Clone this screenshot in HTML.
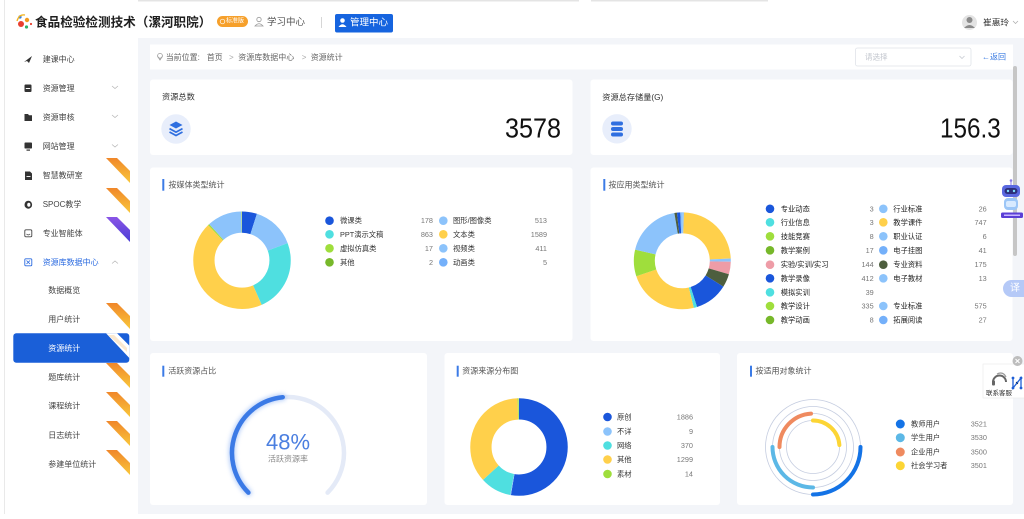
<!DOCTYPE html>
<html><head><meta charset="utf-8">
<style>
html,body{margin:0;padding:0;background:#fff;}
body{width:1024px;height:514px;overflow:hidden;}
svg text{dominant-baseline:central;}
</style></head>
<body>
<svg width="1024" height="514" viewBox="0 0 1024 514" xmlns="http://www.w3.org/2000/svg" font-family="'Liberation Sans','Noto Sans CJK SC',sans-serif">
<defs>
  <linearGradient id="rg" x1="0" y1="0" x2="0" y2="1"><stop offset="0" stop-color="#f0872a"/><stop offset="1" stop-color="#f9c73a"/></linearGradient>
  <linearGradient id="pg" x1="0" y1="0" x2="0" y2="1"><stop offset="0" stop-color="#8a55e6"/><stop offset="1" stop-color="#4a3ed6"/></linearGradient>
  <filter id="blur" x="-20%" y="-20%" width="140%" height="140%"><feGaussianBlur stdDeviation="2.2"/></filter>
</defs>

<!-- backgrounds -->
<rect x="0" y="0" width="1024" height="514" fill="#fff"/>
<rect x="138" y="38" width="886" height="476" fill="#f3f5f9"/>
<rect x="138" y="0" width="441" height="1.5" fill="#e4e4e4"/>
<rect x="591" y="0" width="177" height="1.5" fill="#e4e4e4"/>
<rect x="4" y="0" width="1" height="514" fill="#e9e9e9"/>

<!-- header -->
<g>
  <circle cx="21" cy="24" r="3" fill="#e8402f"/>
  <circle cx="27" cy="20" r="2.2" fill="#f39a1e"/>
  <circle cx="20" cy="17" r="1.6" fill="#2f7be0"/>
  <circle cx="26.5" cy="27" r="1.6" fill="#2fb36a"/>
  <path d="M17 21 Q19 14 25 15" stroke="#f2b21a" stroke-width="1.3" fill="none"/>
  <circle cx="31" cy="24" r="1.1" fill="#e8402f"/>
</g>
<text x="35" y="22.7" font-size="12.6" font-weight="bold" fill="#1e1e1e">食品检验检测技术（漯河职院）</text>
<rect x="217" y="16" width="31" height="11" rx="5.5" fill="#f6a02b"/>
<circle cx="222.5" cy="21.5" r="2.3" fill="none" stroke="#fff" stroke-width="0.7"/>
<text x="226" y="21.7" font-size="6" fill="#fff">标准版</text>
<circle cx="259" cy="19.5" r="2.2" fill="none" stroke="#999" stroke-width="0.8"/>
<path d="M255 26 Q259 21.5 263 26 Z" fill="none" stroke="#999" stroke-width="0.8"/>
<text x="267" y="22.7" font-size="9.5" fill="#555">学习中心</text>
<rect x="321" y="17" width="0.8" height="11" fill="#ccc"/>
<rect x="335" y="14" width="58" height="18.5" rx="2" fill="#1664df"/>
<circle cx="342.5" cy="20.5" r="2.3" fill="#fff"/>
<path d="M338.5 27 Q342.5 21.5 346.5 27 Z" fill="#fff"/>
<text x="350" y="23" font-size="9.5" fill="#fff">管理中心</text>
<circle cx="969.5" cy="22.5" r="7.5" fill="#e3e3e3"/>
<circle cx="969.5" cy="20" r="3" fill="#8a8a8a"/>
<path d="M964 28 Q969.5 22 975 28 Z" fill="#8a8a8a"/>
<text x="983" y="22.5" font-size="8.7" fill="#333">崔惠玲</text>
<polyline points="1013,21 1015.5,23.5 1018,21" fill="none" stroke="#aaa" stroke-width="0.7"/>

<!-- sidebar -->
<g fill="#444" font-size="8">
  <!-- icons -->
  <path d="M24 62 L32 56 L29 63 L27 61 Z" fill="#333"/>
  <rect x="24.5" y="84.5" width="7" height="7.5" rx="1" fill="#333"/><rect x="25.8" y="88" width="4.4" height="1" fill="#fff"/>
  <path d="M24.5 114 L28 114 L29 115.2 L32 115.2 L32 121 L24.5 121 Z" fill="#333"/>
  <rect x="24.5" y="142.5" width="7.5" height="6" rx="0.8" fill="#333"/><rect x="26.5" y="149.5" width="3.5" height="1.2" fill="#333"/>
  <path d="M25 171.5 L30 171.5 L32 173.5 L32 180 L25 180 Z" fill="#333"/><rect x="26.5" y="176" width="4" height="0.9" fill="#fff"/>
  <ellipse cx="28.3" cy="204.7" rx="3.8" ry="4" fill="#333"/><ellipse cx="28.8" cy="204.7" rx="1.6" ry="2" fill="#fff"/>
  <rect x="24.8" y="229.8" width="7" height="7" rx="1.2" fill="none" stroke="#444" stroke-width="0.9"/><path d="M26.5 234 Q28.3 235.8 30.1 234" fill="none" stroke="#444" stroke-width="0.8"/>
  <rect x="24.8" y="258.8" width="7" height="7" rx="1" fill="none" stroke="#2a6ae0" stroke-width="0.9"/><path d="M26.5 260.5 L30 264 M30 260.5 L26.5 264" stroke="#2a6ae0" stroke-width="0.8"/>
  <text x="42.7" y="59.3">建课中心</text>
  <text x="42.7" y="88.3">资源管理</text>
  <text x="42.7" y="117.3">资源审核</text>
  <text x="42.7" y="146.7">网站管理</text>
  <text x="42.7" y="175.7">智慧教研室</text>
  <text x="42.7" y="204.7">SPOC教学</text>
  <text x="42.7" y="233.3">专业智能体</text>
  <text x="42.7" y="262.3" fill="#2a6ae0">资源库数据中心</text>
  <text x="48.3" y="290.7">数据概览</text>
  <text x="48.3" y="319.3">用户统计</text>
  <rect x="13.3" y="333.3" width="116" height="29.4" rx="3" fill="#1a5fd8"/>
  <text x="48.3" y="348.3" fill="#fff">资源统计</text>
  <text x="48.3" y="377.3">题库统计</text>
  <text x="48.3" y="406">课程统计</text>
  <text x="48.3" y="435.7">日志统计</text>
  <text x="48.3" y="464.3">参建单位统计</text>
</g>
<g fill="none" stroke="#b5b5b5" stroke-width="0.7">
  <polyline points="112,86 115,88.5 118,86"/>
  <polyline points="112,115 115,117.5 118,115"/>
  <polyline points="112,144.5 115,147 118,144.5"/>
  <polyline points="112,263.5 115,261 118,263.5"/>
</g>
<!-- ribbons -->
<polygon points="106,158 117,158 130,171 130,183" fill="url(#rg)"/>
<polygon points="106,188 117,188 130,201 130,213" fill="url(#rg)"/>
<polygon points="106,217 117,217 130,230 130,242" fill="url(#pg)"/>
<polygon points="106,303 117,303 130,316 130,329" fill="url(#rg)"/>
<polygon points="106,333.3 117,333.3 129.3,345.6 129.3,358" fill="#fff"/>
<polygon points="108,335 114,335 127,348 127,352" fill="#f7d9b0" opacity="0.6"/>
<polygon points="106,363 117,363 130,376 130,388" fill="url(#rg)"/>
<polygon points="106,392 117,392 130,405 130,417" fill="url(#rg)"/>
<polygon points="106,421 117,421 130,434 130,446" fill="url(#rg)"/>
<polygon points="106,450 117,450 130,463 130,475" fill="url(#rg)"/>

<!-- breadcrumb -->
<rect x="150" y="44.5" width="863" height="25" fill="#fff"/>
<circle cx="160" cy="55.8" r="2.4" fill="none" stroke="#999" stroke-width="0.8"/>
<path d="M157.6 56.3 L160 60 L162.4 56.3" fill="none" stroke="#999" stroke-width="0.8"/>
<g font-size="8" fill="#666">
  <text x="165.7" y="57.3">当前位置:</text>
  <text x="206.7" y="57.3">首页</text>
  <text x="229" y="57.3" fill="#aaa">&gt;</text>
  <text x="238.3" y="57.3">资源库数据中心</text>
  <text x="301.7" y="57.3" fill="#aaa">&gt;</text>
  <text x="310.7" y="57.3">资源统计</text>
</g>
<rect x="855.5" y="48" width="115.5" height="18" rx="2" fill="#fff" stroke="#e0e3e9" stroke-width="0.8"/>
<text x="865" y="57.2" font-size="7.5" fill="#c0c4cc">请选择</text>
<polyline points="959.5,56 962,58.5 964.5,56" fill="none" stroke="#c0c4cc" stroke-width="0.7"/>
<text x="982" y="57.2" font-size="8" fill="#3a7be2">←返回</text>
<rect x="1013" y="66" width="4" height="190" rx="2" fill="#c6c6c6"/>

<!-- top cards -->
<rect x="150" y="79.5" width="422.5" height="75.5" rx="3" fill="#fff"/>
<rect x="590.5" y="79.5" width="422" height="75.5" rx="3" fill="#fff"/>
<text x="162" y="97" font-size="8.2" fill="#333">资源总数</text>
<circle cx="176" cy="129" r="14.7" fill="#e8eefb"/>
<path d="M169.5 125 L176 121.5 L182.5 125 L176 128.5 Z" fill="#2f6fe0"/>
<path d="M169.5 128.6 L176 132.1 L182.5 128.6" fill="none" stroke="#2f6fe0" stroke-width="1.7"/>
<path d="M169.5 132 L176 135.5 L182.5 132" fill="none" stroke="#2f6fe0" stroke-width="1.7"/>
<text x="505" y="128" font-size="28" fill="#111" textLength="56" lengthAdjust="spacingAndGlyphs">3578</text>
<text x="602.3" y="97.3" font-size="8.2" fill="#333">资源总存储量(G)</text>
<circle cx="617" cy="128.8" r="14.7" fill="#e8eefb"/>
<rect x="611" y="121.5" width="12" height="4" rx="2" fill="#2f6fe0"/>
<rect x="611" y="127" width="12" height="4" rx="2" fill="#2f6fe0"/>
<rect x="611" y="132.5" width="12" height="4" rx="2" fill="#2f6fe0"/>
<text x="940" y="128" font-size="28" fill="#111" textLength="60.7" lengthAdjust="spacingAndGlyphs">156.3</text>

<!-- media card -->
<rect x="150" y="167.5" width="422.5" height="173.5" rx="3" fill="#fff"/>
<rect x="162.3" y="179" width="2" height="11.7" fill="#3b7be6"/>
<text x="168.5" y="185" font-size="8" fill="#555">按媒体类型统计</text>
<g transform="rotate(-90 242 260.2)" fill="none" stroke-width="21.3">
  <circle cx="242" cy="260.2" r="38.1" stroke="#1a56db" stroke-dasharray="11.878 300" stroke-dashoffset="0"/>
  <circle cx="242" cy="260.2" r="38.1" stroke="#8cc3fb" stroke-dasharray="34.232 300" stroke-dashoffset="-11.878"/>
  <circle cx="242" cy="260.2" r="38.1" stroke="#4fdfe0" stroke-dasharray="57.588 300" stroke-dashoffset="-46.110"/>
  <circle cx="242" cy="260.2" r="38.1" stroke="#ffd04b" stroke-dasharray="106.034 300" stroke-dashoffset="-103.698"/>
  <circle cx="242" cy="260.2" r="38.1" stroke="#9fde3c" stroke-dasharray="1.134 300" stroke-dashoffset="-209.732"/>
  <circle cx="242" cy="260.2" r="38.1" stroke="#8cc3fb" stroke-dasharray="27.426 300" stroke-dashoffset="-210.866"/>
  <circle cx="242" cy="260.2" r="38.1" stroke="#77b82a" stroke-dasharray="0.4 300" stroke-dashoffset="-238.292"/>
</g>
<g font-size="7.3">
  <circle cx="329.5" cy="220.7" r="4.3" fill="#1a56db"/><text x="340" y="220.7" fill="#333">微课类</text><text x="433" y="220.7" fill="#777" text-anchor="end">178</text>
  <circle cx="443.3" cy="220.7" r="4.3" fill="#8cc3fb"/><text x="453" y="220.7" fill="#333">图形/图像类</text><text x="547" y="220.7" fill="#777" text-anchor="end">513</text>
  <circle cx="329.5" cy="234.3" r="4.3" fill="#4fdfe0"/><text x="340" y="234.3" fill="#333">PPT演示文稿</text><text x="433" y="234.3" fill="#777" text-anchor="end">863</text>
  <circle cx="443.3" cy="234.3" r="4.3" fill="#ffd04b"/><text x="453" y="234.3" fill="#333">文本类</text><text x="547" y="234.3" fill="#777" text-anchor="end">1589</text>
  <circle cx="329.5" cy="248.3" r="4.3" fill="#9fde3c"/><text x="340" y="248.3" fill="#333">虚拟仿真类</text><text x="433" y="248.3" fill="#777" text-anchor="end">17</text>
  <circle cx="443.3" cy="248.3" r="4.3" fill="#8cc3fb"/><text x="453" y="248.3" fill="#333">视频类</text><text x="547" y="248.3" fill="#777" text-anchor="end">411</text>
  <circle cx="329.5" cy="262.3" r="4.3" fill="#77b82a"/><text x="340" y="262.3" fill="#333">其他</text><text x="433" y="262.3" fill="#777" text-anchor="end">2</text>
  <circle cx="443.3" cy="262.3" r="4.3" fill="#74b0fa"/><text x="453" y="262.3" fill="#333">动画类</text><text x="547" y="262.3" fill="#777" text-anchor="end">5</text>
</g>

<!-- application card -->
<rect x="590.5" y="167.5" width="422" height="173.5" rx="3" fill="#fff"/>
<rect x="603.3" y="179" width="2" height="11.7" fill="#3b7be6"/>
<text x="608.5" y="185" font-size="8" fill="#555">按应用类型统计</text>
<g transform="rotate(-90 682.3 260.8)" fill="none" stroke-width="21">
  <circle cx="682.3" cy="260.8" r="38" stroke="#8cc3fb" stroke-dasharray="1.33 300" stroke-dashoffset="0"/>
  <circle cx="682.3" cy="260.8" r="38" stroke="#ffd04b" stroke-dasharray="56.37 300" stroke-dashoffset="-1.33"/>
  <circle cx="682.3" cy="260.8" r="38" stroke="#8cc3fb" stroke-dasharray="2.65 300" stroke-dashoffset="-57.70"/>
  <circle cx="682.3" cy="260.8" r="38" stroke="#ee9ca7" stroke-dasharray="9.95 300" stroke-dashoffset="-60.35"/>
  <circle cx="682.3" cy="260.8" r="38" stroke="#4d5e3e" stroke-dasharray="10.61 300" stroke-dashoffset="-70.30"/>
  <circle cx="682.3" cy="260.8" r="38" stroke="#1a56db" stroke-dasharray="26.53 300" stroke-dashoffset="-80.91"/>
  <circle cx="682.3" cy="260.8" r="38" stroke="#4fdfe0" stroke-dasharray="2.65 300" stroke-dashoffset="-107.44"/>
  <circle cx="682.3" cy="260.8" r="38" stroke="#ffd04b" stroke-dasharray="56.37 300" stroke-dashoffset="-110.09"/>
  <circle cx="682.3" cy="260.8" r="38" stroke="#9fde3c" stroke-dasharray="21.22 300" stroke-dashoffset="-166.46"/>
  <circle cx="682.3" cy="260.8" r="38" stroke="#8cc3fb" stroke-dasharray="44.44 300" stroke-dashoffset="-187.69"/>
  <circle cx="682.3" cy="260.8" r="38" stroke="#4d5e3e" stroke-dasharray="1.99 300" stroke-dashoffset="-232.13"/>
  <circle cx="682.3" cy="260.8" r="38" stroke="#1a56db" stroke-dasharray="2.65 300" stroke-dashoffset="-234.12"/>
  <circle cx="682.3" cy="260.8" r="38" stroke="#8cc3fb" stroke-dasharray="1.99 300" stroke-dashoffset="-236.77"/>
</g>
<g font-size="7.3">
  <circle cx="770" cy="208.8" r="4.3" fill="#1a56db"/><text x="780.7" y="208.8" fill="#222">专业动态</text><text x="873.7" y="208.8" fill="#777" text-anchor="end">3</text>
  <circle cx="883.3" cy="208.8" r="4.3" fill="#8cc3fb"/><text x="893.3" y="208.8" fill="#222">行业标准</text><text x="986.7" y="208.8" fill="#777" text-anchor="end">26</text>
  <circle cx="770" cy="222.3" r="4.3" fill="#4fdfe0"/><text x="780.7" y="222.3" fill="#222">行业信息</text><text x="873.7" y="222.3" fill="#777" text-anchor="end">3</text>
  <circle cx="883.3" cy="222.3" r="4.3" fill="#ffd04b"/><text x="893.3" y="222.3" fill="#222">教学课件</text><text x="986.7" y="222.3" fill="#777" text-anchor="end">747</text>
  <circle cx="770" cy="236.3" r="4.3" fill="#9fde3c"/><text x="780.7" y="236.3" fill="#222">技能竞赛</text><text x="873.7" y="236.3" fill="#777" text-anchor="end">8</text>
  <circle cx="883.3" cy="236.3" r="4.3" fill="#8cc3fb"/><text x="893.3" y="236.3" fill="#222">职业认证</text><text x="986.7" y="236.3" fill="#777" text-anchor="end">6</text>
  <circle cx="770" cy="250.3" r="4.3" fill="#77b82a"/><text x="780.7" y="250.3" fill="#222">教学案例</text><text x="873.7" y="250.3" fill="#777" text-anchor="end">17</text>
  <circle cx="883.3" cy="250.3" r="4.3" fill="#74b0fa"/><text x="893.3" y="250.3" fill="#222">电子挂图</text><text x="986.7" y="250.3" fill="#777" text-anchor="end">41</text>
  <circle cx="770" cy="264.7" r="4.3" fill="#ee9ca7"/><text x="780.7" y="264.7" fill="#222">实验/实训/实习</text><text x="873.7" y="264.7" fill="#777" text-anchor="end">144</text>
  <circle cx="883.3" cy="264.7" r="4.3" fill="#4d5e3e"/><text x="893.3" y="264.7" fill="#222">专业资料</text><text x="986.7" y="264.7" fill="#777" text-anchor="end">175</text>
  <circle cx="770" cy="278.3" r="4.3" fill="#1a56db"/><text x="780.7" y="278.3" fill="#222">教学录像</text><text x="873.7" y="278.3" fill="#777" text-anchor="end">412</text>
  <circle cx="883.3" cy="278.3" r="4.3" fill="#8cc3fb"/><text x="893.3" y="278.3" fill="#222">电子教材</text><text x="986.7" y="278.3" fill="#777" text-anchor="end">13</text>
  <circle cx="770" cy="292.3" r="4.3" fill="#4fdfe0"/><text x="780.7" y="292.3" fill="#222">模拟实训</text><text x="873.7" y="292.3" fill="#777" text-anchor="end">39</text>
  <circle cx="770" cy="306" r="4.3" fill="#9fde3c"/><text x="780.7" y="306" fill="#222">教学设计</text><text x="873.7" y="306" fill="#777" text-anchor="end">335</text>
  <circle cx="883.3" cy="306" r="4.3" fill="#8cc3fb"/><text x="893.3" y="306" fill="#222">专业标准</text><text x="986.7" y="306" fill="#777" text-anchor="end">575</text>
  <circle cx="770" cy="320" r="4.3" fill="#77b82a"/><text x="780.7" y="320" fill="#222">教学动画</text><text x="873.7" y="320" fill="#777" text-anchor="end">8</text>
  <circle cx="883.3" cy="320" r="4.3" fill="#74b0fa"/><text x="893.3" y="320" fill="#222">拓展阅读</text><text x="986.7" y="320" fill="#777" text-anchor="end">27</text>
</g>

<!-- bottom cards -->
<rect x="150" y="353" width="277" height="152" rx="3" fill="#fff"/>
<rect x="444.5" y="353" width="275.5" height="152" rx="3" fill="#fff"/>
<rect x="737" y="353" width="276" height="152" rx="3" fill="#fff"/>

<rect x="162.3" y="365.7" width="2" height="11" fill="#3b7be6"/>
<text x="168.3" y="371" font-size="8" fill="#555">活跃资源占比</text>
<path d="M248.4 492.6 A56 56 0 1 1 327.6 492.6" fill="none" stroke="#e4eaf7" stroke-width="4.5" stroke-linecap="round"/>
<path d="M248.4 492.6 A56 56 0 0 1 282.7 397.25" fill="none" stroke="#8fb4f5" stroke-width="7" stroke-linecap="round" filter="url(#blur)" opacity="0.6"/>
<path d="M248.4 492.6 A56 56 0 0 1 282.7 397.25" fill="none" stroke="#3b7ae6" stroke-width="4.5" stroke-linecap="round"/>
<text x="288" y="442" font-size="22" fill="#4b7fe0" text-anchor="middle">48%</text>
<text x="288" y="459" font-size="8" fill="#888" text-anchor="middle">活跃资源率</text>

<rect x="456.7" y="365.7" width="2" height="11" fill="#3b7be6"/>
<text x="462.3" y="371" font-size="8" fill="#555">资源来源分布图</text>
<g transform="rotate(-90 519 447)" fill="none" stroke-width="21.3">
  <circle cx="519" cy="447" r="38.1" stroke="#1a56db" stroke-dasharray="125.85 300" stroke-dashoffset="0"/>
  <circle cx="519" cy="447" r="38.1" stroke="#8cc3fb" stroke-dasharray="0.6 300" stroke-dashoffset="-125.85"/>
  <circle cx="519" cy="447" r="38.1" stroke="#4fdfe0" stroke-dasharray="24.69 300" stroke-dashoffset="-126.45"/>
  <circle cx="519" cy="447" r="38.1" stroke="#ffd04b" stroke-dasharray="86.68 300" stroke-dashoffset="-151.14"/>
  <circle cx="519" cy="447" r="38.1" stroke="#9fde3c" stroke-dasharray="0.93 300" stroke-dashoffset="-237.82"/>
</g>
<g font-size="7.3">
  <circle cx="607.5" cy="417" r="4.3" fill="#1a56db"/><text x="617" y="417" fill="#333">原创</text><text x="693" y="417" fill="#777" text-anchor="end">1886</text>
  <circle cx="607.5" cy="431.5" r="4.3" fill="#8cc3fb"/><text x="617" y="431.5" fill="#333">不详</text><text x="693" y="431.5" fill="#777" text-anchor="end">9</text>
  <circle cx="607.5" cy="445.5" r="4.3" fill="#4fdfe0"/><text x="617" y="445.5" fill="#333">网络</text><text x="693" y="445.5" fill="#777" text-anchor="end">370</text>
  <circle cx="607.5" cy="459.5" r="4.3" fill="#ffd04b"/><text x="617" y="459.5" fill="#333">其他</text><text x="693" y="459.5" fill="#777" text-anchor="end">1299</text>
  <circle cx="607.5" cy="474" r="4.3" fill="#9fde3c"/><text x="617" y="474" fill="#333">素材</text><text x="693" y="474" fill="#777" text-anchor="end">14</text>
</g>

<rect x="750" y="365.7" width="2" height="11" fill="#3b7be6"/>
<text x="755.5" y="371" font-size="8" fill="#555">按适用对象统计</text>
<g fill="none" stroke="#c5cde0" stroke-width="0.8">
  <circle cx="813" cy="447" r="47.5"/>
  <circle cx="813" cy="447" r="40.5"/>
  <circle cx="813" cy="447" r="33.5"/>
  <circle cx="813" cy="447" r="26.5"/>
</g>
<g fill="none" stroke-width="4" stroke-linecap="round">
  <path d="M860.5 447 A47.5 47.5 0 0 1 813 494.5" stroke="#1473e6"/>
  <path d="M813 487.5 A40.5 40.5 0 0 1 772.5 447" stroke="#5cb8e6"/>
  <path d="M779.5 447 A33.5 33.5 0 0 1 811 413.6" stroke="#ef8a5f"/>
  <path d="M813 420.5 A26.5 26.5 0 0 1 839.4 445" stroke="#fcd535"/>
</g>
<g font-size="7.3">
  <circle cx="900.3" cy="424" r="4.5" fill="#1473e6"/><text x="911" y="424" fill="#333">教师用户</text><text x="970.7" y="424" fill="#777">3521</text>
  <circle cx="900.3" cy="437.7" r="4.5" fill="#5cb8e6"/><text x="911" y="437.7" fill="#333">学生用户</text><text x="970.7" y="437.7" fill="#777">3530</text>
  <circle cx="900.3" cy="452" r="4.5" fill="#ef8a5f"/><text x="911" y="452" fill="#333">企业用户</text><text x="970.7" y="452" fill="#777">3500</text>
  <circle cx="900.3" cy="465.7" r="4.5" fill="#fcd535"/><text x="911" y="465.7" fill="#333">社会学习者</text><text x="970.7" y="465.7" fill="#777">3501</text>
</g>

<!-- floating widgets -->
<g>
  <circle cx="1011" cy="180.5" r="1.3" fill="#8b7de8"/>
  <rect x="1010.5" y="181" width="1" height="4" fill="#8b7de8"/>
  <rect x="1002" y="185" width="18" height="12" rx="4" fill="#5a68e0"/>
  <rect x="1004.5" y="188" width="13" height="6" rx="3" fill="#2d2f7a"/>
  <circle cx="1008" cy="191" r="1.2" fill="#7fe0ff"/><circle cx="1014" cy="191" r="1.2" fill="#7fe0ff"/>
  <rect x="1004" y="198" width="14" height="12" rx="4" fill="#9cc6f7"/>
  <rect x="1006" y="201" width="10" height="6" rx="2" fill="#d8eaff"/>
  <rect x="1001" y="212.5" width="22" height="5.5" rx="1.5" fill="#5b3fd6"/>
  <rect x="1004" y="214.5" width="16" height="1.5" fill="#c9b8ff"/>
</g>
<rect x="1003" y="280" width="30" height="17" rx="8.5" fill="#b5c9f7"/>
<text x="1010" y="288.5" font-size="10" fill="#fff">译</text>

<rect x="983" y="364" width="45" height="34" fill="#fff" stroke="#ececec" stroke-width="0.7"/>
<path d="M993 382 A6.5 6.5 0 0 1 1006 382" fill="none" stroke="#666" stroke-width="2"/>
<rect x="992" y="380.5" width="3" height="5" rx="1" fill="#666"/>
<path d="M997 374 Q1003 371 1006 377" fill="none" stroke="#999" stroke-width="1.2"/>
<text x="986" y="393.5" font-size="6.5" fill="#333">联系客服</text>
<g fill="#1f5fd6">
  <circle cx="1013" cy="378" r="1.4"/><circle cx="1021" cy="378" r="1.4"/>
  <circle cx="1013" cy="388" r="1.4"/><circle cx="1021" cy="388" r="1.4"/>
  <circle cx="1017" cy="383" r="1.2" fill="#111"/>
  <path d="M1013 378 L1013 388 L1021 378 L1021 388" fill="none" stroke="#1f5fd6" stroke-width="1.3"/>
</g>
<circle cx="1017.5" cy="361" r="5" fill="#bdbdbd"/>
<path d="M1015.5 359 L1019.5 363 M1019.5 359 L1015.5 363" stroke="#fff" stroke-width="1"/>
</svg>
</body></html>
